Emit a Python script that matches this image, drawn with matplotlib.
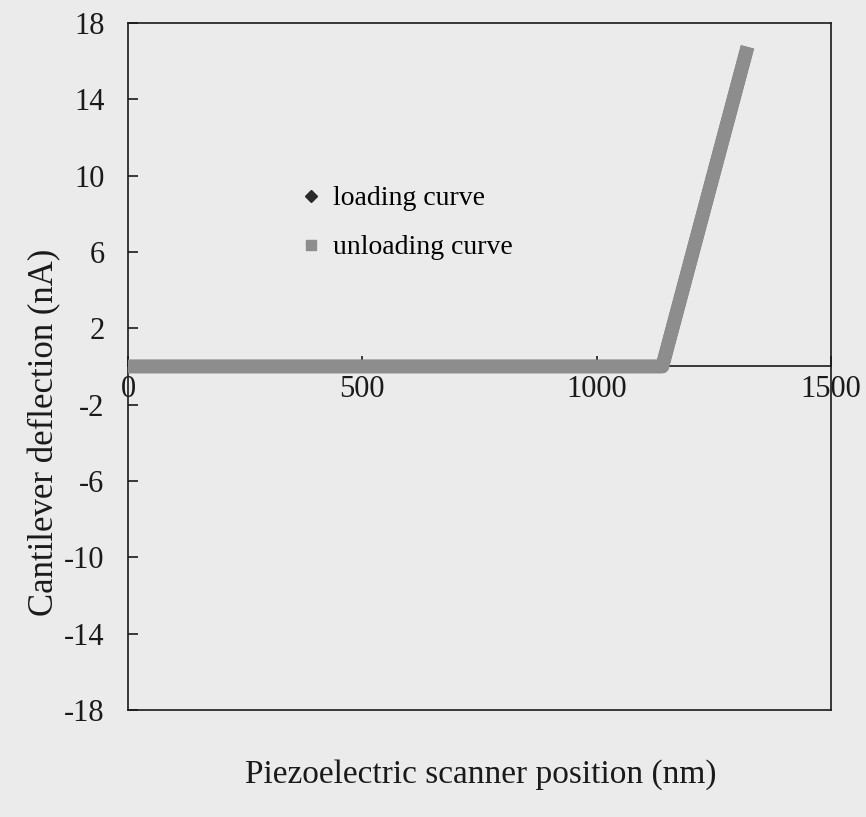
import matplotlib
matplotlib.use("Agg")
import matplotlib.pyplot as plt
from matplotlib.lines import Line2D

plt.rcParams['font.family'] = ['Liberation Serif', 'DejaVu Serif']
plt.rcParams['axes.unicode_minus'] = False

# Force curve: scanner position (nm) vs cantilever deflection (nA)
loading_position = [0, 1140, 1318]
loading_deflection = [0, 0, 16.4]
unloading_position = [0, 1140, 1318]
unloading_deflection = [0, 0, 16.4]

x_ticks = [0, 500, 1000, 1500]
y_ticks = [-18, -14, -10, -6, -2, 2, 6, 10, 14, 18]

bg = '#ebebeb'
fig = plt.figure(figsize=(8.66, 8.17), dpi=100, facecolor=bg)
ax = fig.add_axes([0.1478, 0.1310, 0.8118, 0.8409], facecolor=bg)

ax.plot(loading_position, loading_deflection, color='#3a3a3a', lw=9.5,
        solid_capstyle='projecting', solid_joinstyle='round', zorder=3)
ax.plot(unloading_position, unloading_deflection, color='#8d8d8d', lw=10,
        solid_capstyle='projecting', solid_joinstyle='round', zorder=4)

ax.set_xlim(0, 1500)
ax.set_ylim(-18, 18)
ax.set_xticks(x_ticks)
ax.set_yticks(y_ticks)

# x axis drawn through zero, box closed with a separate bottom edge
ax.spines['bottom'].set_position(('data', 0))
for s in ax.spines.values():
    s.set_linewidth(1.2)
    s.set_color('#1a1a1a')
ax.add_line(Line2D([0, 1], [0, 0], transform=ax.transAxes, color='#1a1a1a',
                   lw=1.2, clip_on=False))

ax.tick_params(axis='both', direction='in', length=7, width=1.2,
               colors='#1a1a1a', labelsize=22)
ax.tick_params(axis='y', pad=17)
ax.tick_params(axis='x', pad=6)

fig.text(481 / 866, 1 - 775 / 817, 'Piezoelectric scanner position (nm)',
         ha='center', va='center', fontsize=24, color='#1a1a1a')
fig.text(45 / 866, 1 - 432 / 817, 'Cantilever deflection (nA)',
         ha='center', va='center', rotation=90, fontsize=25, color='#1a1a1a')

handles = [
    Line2D([], [], ls='none', marker='D', markersize=6.5, color='#2a2a2a',
           label='loading curve'),
    Line2D([], [], ls='none', marker='s', markersize=7, color='#8d8d8d',
           label='unloading curve'),
]
ax.legend(handles=handles, loc='upper left',
          bbox_to_anchor=(300 / 866, 1 - 186 / 817),
          bbox_transform=fig.transFigure, frameon=False, fontsize=20,
          handlelength=0.8, handletextpad=0.4, labelspacing=0.85,
          borderpad=0, borderaxespad=0)

fig.savefig('out.png', dpi=100, facecolor=bg)
